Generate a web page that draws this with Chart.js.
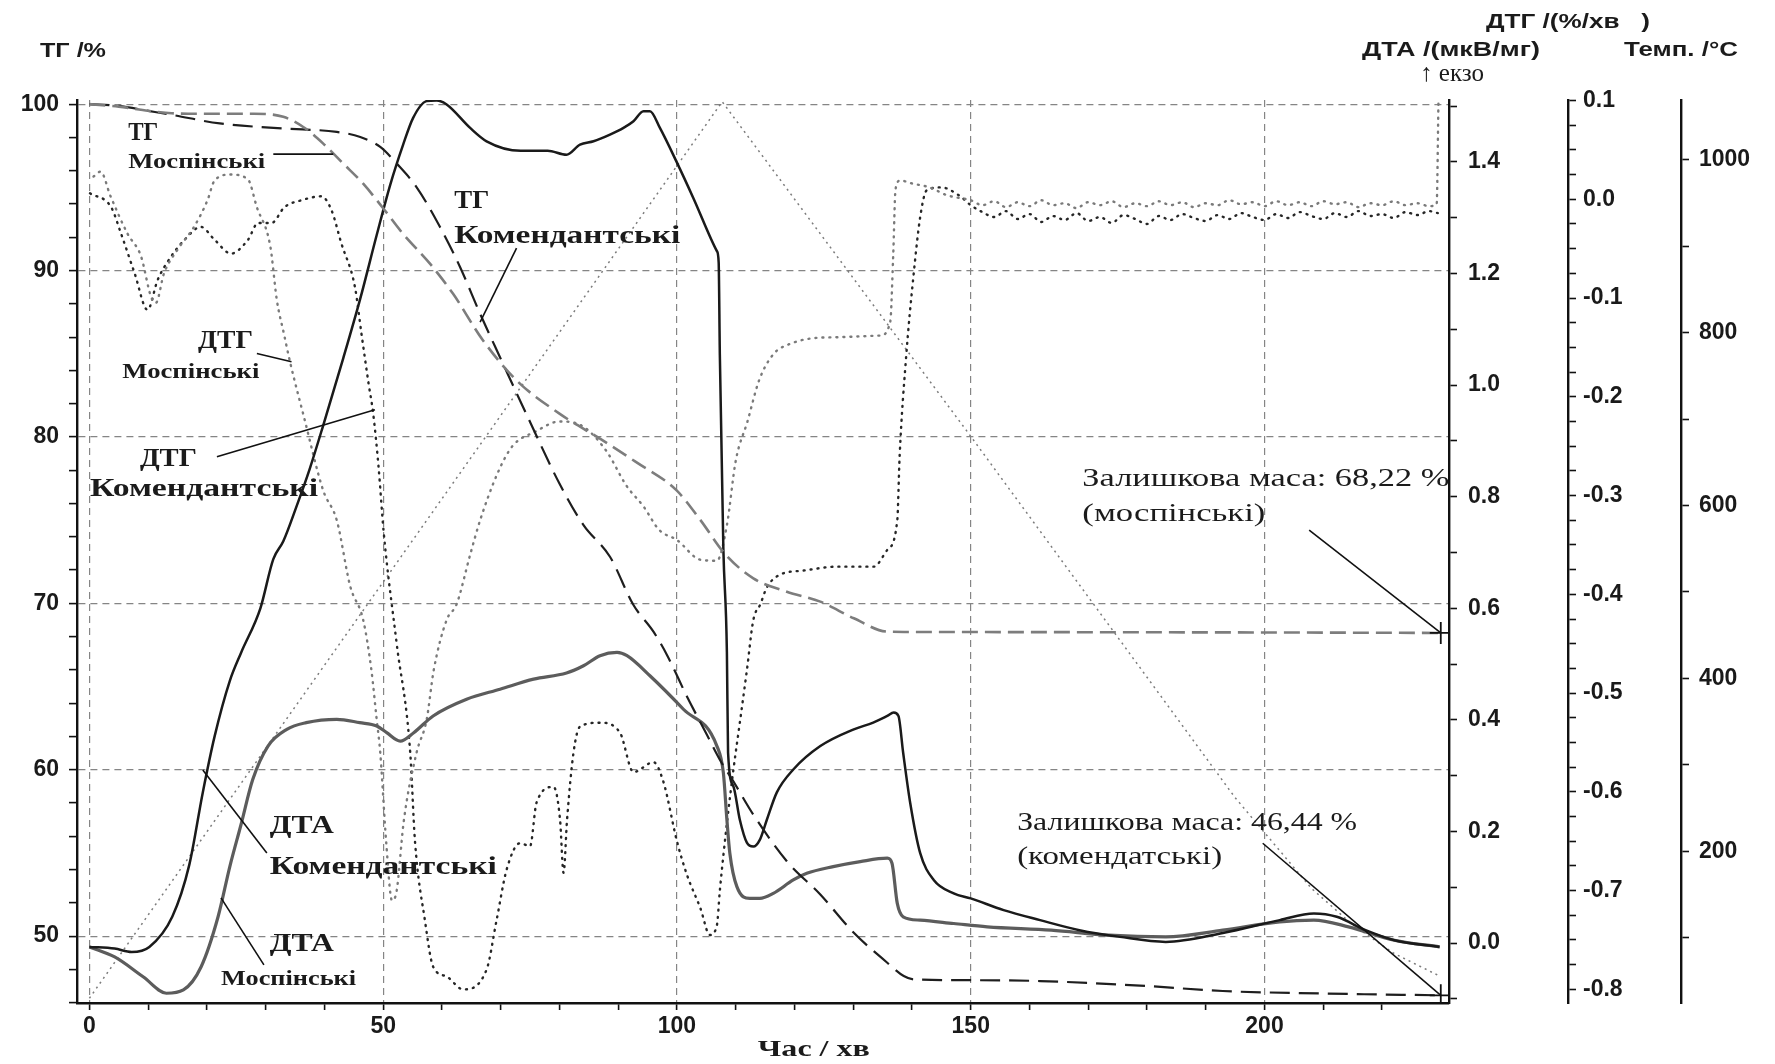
<!DOCTYPE html>
<html>
<head>
<meta charset="utf-8">
<title>ТГ / ДТГ / ДТА</title>
<script src="https://cdn.jsdelivr.net/npm/chart.js@4.4.1/dist/chart.umd.min.js"></script>
<style>
  html, body { margin: 0; padding: 0; background: #fff; }
  #wrap { width: 1775px; height: 1064px; position: relative; }
</style>
</head>
<body>
<div id="wrap"><canvas id="tga"></canvas></div>
<script>
// ---- axis ticks ----
const timeTicks = [0, 10, 20, 30, 40, 50, 60, 70, 80, 90, 100, 110, 120, 130, 140, 150, 160, 170, 180, 190, 200, 210, 220];
const timeLabels = [0, 50, 100, 150, 200];
const tgTicks = [46, 48, 50, 52, 54, 56, 58, 60, 62, 64, 66, 68, 70, 72, 74, 76, 78, 80, 82, 84, 86, 88, 90, 92, 94, 96, 98, 100];
const tgLabels = [50, 60, 70, 80, 90, 100];
const dtaTicks = [-0.1, 0, 0.1, 0.2, 0.3, 0.4, 0.5, 0.6, 0.7, 0.8, 0.9, 1.0, 1.1, 1.2, 1.3, 1.4, 1.5];
const dtaLabels = [0, 0.2, 0.4, 0.6, 0.8, 1.0, 1.2, 1.4];
const dtgTicks = [-0.8, -0.775, -0.75, -0.725, -0.7, -0.675, -0.65, -0.625, -0.6, -0.575, -0.55, -0.525, -0.5, -0.475, -0.45, -0.425, -0.4, -0.375, -0.35, -0.325, -0.3, -0.275, -0.25, -0.225, -0.2, -0.175, -0.15, -0.125, -0.1, -0.075, -0.05, -0.025, 0, 0.025, 0.05, 0.075, 0.1];
const dtgLabels = [-0.8, -0.7, -0.6, -0.5, -0.4, -0.3, -0.2, -0.1, 0, 0.1];
const tempTicks = [100, 200, 300, 400, 500, 600, 700, 800, 900, 1000];
const tempLabels = [200, 400, 600, 800, 1000];

// ---- ТГ, % ----
const tgMossTime  = [0, 5, 10, 14, 20, 28, 33, 36.4, 39.8, 43.2, 46.6, 50.3, 53.4, 58, 61.9, 67, 72.7, 80, 86.9, 93, 99.9, 104, 108.1, 113, 118.7, 124.4, 130.1, 135.8, 140, 160, 180, 200, 230];
const tgMossValue = [100, 99.85, 99.6, 99.45, 99.42, 99.42, 99.24, 98.63, 97.63, 96.43, 95.22, 93.61, 92.2, 90.4, 88.6, 85.8, 83.4, 81.4, 79.9, 78.5, 76.8, 75.0, 73.0, 71.5, 70.7, 70.1, 69.1, 68.3, 68.28, 68.27, 68.26, 68.25, 68.22];

const tgKomTime  = [0, 5, 10, 14.3, 22.2, 33, 42.1, 46.1, 49.5, 52.3, 55.7, 59.7, 63.1, 66.5, 70, 75, 80, 84.1, 88.6, 92.6, 96, 98.3, 101.7, 105.1, 107.3, 109.6, 113, 118.7, 124.4, 130.1, 135.8, 138.6, 140.3, 150, 161.8, 180, 192.9, 210, 230];
const tgKomValue = [100, 99.9, 99.6, 99.34, 98.84, 98.54, 98.33, 98.03, 97.43, 96.43, 95.0, 92.6, 90.2, 87.4, 84.7, 80.9, 77.2, 74.7, 72.8, 69.9, 68.3, 66.9, 64.4, 62.1, 60.6, 59.3, 57.3, 54.5, 52.5, 50.2, 48.4, 47.6, 47.4, 47.35, 47.3, 47.0, 46.7, 46.55, 46.44];

// ---- ДТА, мкВ/мг ----
const dtaKomTime  = [0, 4.3, 7.2, 10.2, 14.1, 17, 19.3, 21.3, 23.9, 25.8, 29.1, 31.3, 33, 35.3, 37.5, 39.8, 43.2, 46.1, 48.9, 51.2, 53.4, 55.1, 57.4, 59.1, 60.8, 64.8, 67.6, 73.4, 78, 81.2, 83.5, 85.8, 88.6, 90.9, 92.6, 94.3, 95.4, 97.1, 99.9, 102.8, 106.8, 107.1, 107.3, 107.9, 108.5, 108.7, 109.6, 110.7, 111.9, 113, 114.1, 115.3, 117, 119.8, 124.4, 130.1, 133.4, 135.8, 136.9, 137.7, 138.5, 139.7, 141.4, 143.7, 147.1, 150, 155.6, 161.8, 168.5, 175.4, 183.2, 192.9, 202.6, 208.4, 212.3, 217.2, 222.1, 229.8];
const dtaKomValue = [-0.007, -0.01, -0.016, -0.007, 0.047, 0.14, 0.27, 0.37, 0.47, 0.52, 0.6, 0.688, 0.72, 0.784, 0.85, 0.928, 1.048, 1.155, 1.269, 1.359, 1.431, 1.479, 1.509, 1.51, 1.503, 1.461, 1.437, 1.42, 1.42, 1.413, 1.431, 1.437, 1.449, 1.461, 1.473, 1.491, 1.491, 1.461, 1.401, 1.335, 1.24, 1.22, 1.054, 0.706, 0.521, 0.341, 0.281, 0.221, 0.18, 0.173, 0.185, 0.221, 0.27, 0.311, 0.353, 0.383, 0.395, 0.407, 0.413, 0.407, 0.341, 0.251, 0.161, 0.113, 0.089, 0.08, 0.059, 0.041, 0.023, 0.011, 0.002, 0.018, 0.041, 0.053, 0.047, 0.023, 0.005, -0.007];

const dtaMossTime  = [0, 4.3, 9.2, 13.1, 16, 19, 21.9, 23.9, 25.8, 27.8, 30.4, 33.6, 36.9, 42.1, 46, 48.9, 50.6, 52.9, 55.2, 58.5, 64.2, 69.9, 75.6, 81.2, 84.1, 86.9, 89.8, 91.5, 95.4, 101.1, 106.8, 107.9, 108.5, 109, 110.2, 112.4, 114.1, 116.4, 119.8, 122.1, 126.6, 131.2, 135.8, 136.6, 137.5, 138.5, 141.4, 147.1, 152.8, 163.7, 173.5, 183.2, 192.9, 202.6, 208.4, 214.3, 222.1, 229.8];
const dtaMossValue = [-0.007, -0.025, -0.061, -0.09, -0.084, -0.043, 0.047, 0.137, 0.212, 0.293, 0.353, 0.383, 0.395, 0.401, 0.395, 0.389, 0.377, 0.362, 0.377, 0.407, 0.437, 0.455, 0.473, 0.484, 0.497, 0.515, 0.521, 0.515, 0.479, 0.419, 0.353, 0.305, 0.221, 0.161, 0.101, 0.08, 0.08, 0.089, 0.113, 0.125, 0.137, 0.146, 0.152, 0.143, 0.071, 0.047, 0.041, 0.035, 0.029, 0.023, 0.014, 0.011, 0.023, 0.038, 0.041, 0.029, 0.005, -0.007];

// ---- ДТГ, %/хв ----
const dtgMossTime  = [0.7, 1.9, 3.6, 6.5, 8.8, 10.5, 11.3, 12.7, 15, 17.8, 20.1, 21.3, 24, 27, 28.5, 30.8, 31.9, 33.1, 34.2, 36.5, 39.8, 42.1, 44.4, 46.6, 48, 48.9, 49.5, 50.5, 51.5, 52.3, 53.5, 55.7, 57.4, 58.6, 60.8, 62.5, 64.8, 66.5, 69.5, 72, 76, 80, 84, 88, 91.4, 94.3, 97, 100, 104, 106.8, 108.5, 110, 112, 114, 116.4, 119, 125, 134.6, 136.3, 136.8, 137.2, 138, 140, 143, 146, 150, 152, 154, 156, 158, 160, 162, 164, 166, 168, 170, 172, 174, 176, 178, 180, 182, 184, 186, 188, 190, 192, 194, 196, 198, 200, 202, 204, 206, 208, 210, 212, 214, 216, 218, 220, 222, 224, 226, 228, 229.3, 229.6];
const dtgMossValue = [0.023, 0.028, 0.003, -0.035, -0.058, -0.099, -0.105, -0.075, -0.051, -0.028, -0.001, 0.019, 0.025, 0.02, -0.008, -0.048, -0.102, -0.136, -0.166, -0.22, -0.295, -0.325, -0.392, -0.426, -0.477, -0.527, -0.56, -0.65, -0.71, -0.7, -0.63, -0.56, -0.527, -0.477, -0.426, -0.41, -0.36, -0.325, -0.277, -0.25, -0.235, -0.225, -0.23, -0.255, -0.29, -0.311, -0.335, -0.345, -0.365, -0.366, -0.33, -0.265, -0.225, -0.183, -0.157, -0.147, -0.14, -0.138, -0.124, -0.058, 0.01, 0.019, 0.016, 0.012, 0.004, -0.001, -0.006, -0.002, -0.008, -0.003, -0.007, -0.001, -0.006, -0.004, -0.009, -0.003, -0.006, -0.002, -0.008, -0.004, -0.007, -0.002, -0.006, -0.003, -0.008, -0.004, -0.006, -0.001, -0.005, -0.003, -0.007, -0.002, -0.006, -0.003, -0.007, -0.002, -0.005, -0.003, -0.008, -0.004, -0.006, -0.002, -0.006, -0.004, -0.007, -0.005, 0.097];

const dtgKomTime  = [0.1, 3.7, 5.4, 7.7, 9.9, 11.6, 13.9, 16.2, 19, 21.3, 24.1, 27, 28.7, 31, 33.2, 36.1, 39.5, 41.2, 42.9, 45.2, 46.3, 47.5, 48.3, 49.2, 50.1, 52.3, 54.6, 55.4, 57.1, 58.5, 60.8, 63.6, 67.6, 69.3, 71, 73.3, 75, 76.1, 79, 80.1, 80.7, 81.3, 82.4, 83.5, 86.9, 90.3, 92.6, 96, 97.7, 100, 101.7, 104, 105.6, 106.8, 107.3, 108.5, 109.6, 110.7, 111.9, 113, 114.2, 115.3, 117.6, 121.5, 127.2, 133.5, 135.8, 137.5, 137.9, 139, 140.3, 141.4, 142.5, 145, 148, 150, 152, 154, 156, 158, 160, 162, 164, 166, 168, 170, 172, 174, 176, 178, 180, 182, 184, 186, 188, 190, 192, 194, 196, 198, 200, 202, 204, 206, 208, 210, 212, 214, 216, 218, 220, 222, 224, 226, 228, 229.5];
const dtgKomValue = [0.006, -0.008, -0.035, -0.075, -0.112, -0.082, -0.058, -0.041, -0.028, -0.041, -0.055, -0.041, -0.024, -0.024, -0.008, -0.001, 0.003, -0.011, -0.045, -0.089, -0.136, -0.186, -0.217, -0.27, -0.338, -0.45, -0.56, -0.649, -0.73, -0.777, -0.787, -0.8, -0.78, -0.73, -0.679, -0.652, -0.655, -0.611, -0.595, -0.628, -0.682, -0.628, -0.56, -0.534, -0.53, -0.54, -0.58, -0.57, -0.59, -0.65, -0.684, -0.718, -0.745, -0.735, -0.7, -0.632, -0.578, -0.53, -0.477, -0.426, -0.41, -0.393, -0.38, -0.376, -0.372, -0.372, -0.355, -0.325, -0.26, -0.16, -0.075, -0.018, 0.009, 0.012, 0.004, -0.006, -0.013, -0.018, -0.012, -0.02, -0.015, -0.023, -0.017, -0.021, -0.014, -0.022, -0.018, -0.024, -0.016, -0.02, -0.025, -0.017, -0.021, -0.015, -0.019, -0.022, -0.016, -0.02, -0.014, -0.018, -0.021, -0.015, -0.019, -0.013, -0.017, -0.02, -0.014, -0.018, -0.012, -0.017, -0.015, -0.019, -0.013, -0.016, -0.012, -0.014];

// ---- Температура, °C ----
const tempTime  = [0, 107.7, 150, 195, 208, 215, 222, 230];
const tempValue = [30, 1067, 680, 262, 157, 115, 82, 55];

// ---- text on the plot (position in time / ТГ units) ----
const curveLabels = [
  { text: 'ТГ', t: 6.6, tg: 97.84, font: 'bold 25px "Liberation Serif"', width: 30 },
  { text: 'Моспінські', t: 6.6, tg: 96.16, font: 'bold 22px "Liberation Serif"', width: 137 },
  { text: 'ТГ', t: 62.1, tg: 93.76, font: 'bold 25px "Liberation Serif"', width: 35 },
  { text: 'Комендантські', t: 62.1, tg: 91.65, font: 'bold 25px "Liberation Serif"', width: 226 },
  { text: 'ДТГ', t: 18.5, tg: 85.34, font: 'bold 25px "Liberation Serif"', width: 55 },
  { text: 'Моспінські', t: 5.6, tg: 83.54, font: 'bold 22px "Liberation Serif"', width: 137 },
  { text: 'ДТГ', t: 8.6, tg: 78.25, font: 'bold 25px "Liberation Serif"', width: 57 },
  { text: 'Комендантські', t: 0.1, tg: 76.45, font: 'bold 25px "Liberation Serif"', width: 228 },
  { text: 'ДТА', t: 30.7, tg: 56.2, font: 'bold 25px "Liberation Serif"', width: 64 },
  { text: 'Комендантські', t: 30.7, tg: 53.74, font: 'bold 25px "Liberation Serif"', width: 227 },
  { text: 'ДТА', t: 30.7, tg: 49.11, font: 'bold 25px "Liberation Serif"', width: 64 },
  { text: 'Моспінські', t: 22.4, tg: 47.06, font: 'bold 22px "Liberation Serif"', width: 135 },
  { text: 'Залишкова маса: 68,22 %', t: 169.0, tg: 77.05, font: '25px "Liberation Serif"', width: 367 },
  { text: '(моспінські)', t: 169.0, tg: 74.95, font: '25px "Liberation Serif"', width: 183 },
  { text: 'Залишкова маса: 46,44 %', t: 157.9, tg: 56.38, font: '25px "Liberation Serif"', width: 340 },
  { text: '(комендатські)', t: 157.9, tg: 54.34, font: '25px "Liberation Serif"', width: 205 }
];
const leaderLines = [
  [31.3, 97.0, 41.5, 97.0],
  [72.7, 91.35, 66.5, 86.9],
  [28.5, 85.02, 34.4, 84.52],
  [21.7, 78.81, 48.6, 81.63],
  [19.3, 59.99, 30.2, 55.0],
  [22.4, 52.3, 29.7, 48.27],
  [207.6, 74.4, 230, 68.22],
  [199.7, 55.58, 230, 46.44]
];

function pts(ts, vs) { return ts.map((t, i) => ({ x: t, y: vs[i] })); }
function near(list, v) { return list.some(a => Math.abs(a - v) < 1e-6); }
function setTicks(list) { return axis => { axis.ticks = list.map(v => ({ value: v })); }; }
function fixWidth(w) { return scale => { scale.width = w; }; }

function stretchText(ctx, text, px, py, font, width, align) {
  ctx.font = font;
  const w = ctx.measureText(text).width;
  const k = width ? width / w : 1;
  ctx.save();
  ctx.translate(px, py);
  ctx.scale(k, 1);
  ctx.textAlign = align || 'left';
  ctx.fillText(text, 0, 0);
  ctx.restore();
}

const textPlugin = {
  id: 'tgaText',
  afterDatasetsDraw(chart) {
    const { ctx, scales } = chart;
    const x = scales.x, y = scales.yTG;
    ctx.save();
    ctx.fillStyle = '#1b1b1b';
    ctx.textBaseline = 'alphabetic';
    curveLabels.forEach(l => {
      stretchText(ctx, l.text, x.getPixelForValue(l.t), y.getPixelForValue(l.tg), l.font, l.width, 'left');
    });
    ctx.strokeStyle = '#111';
    ctx.lineWidth = 1.6;
    leaderLines.forEach(([t1, v1, t2, v2]) => {
      ctx.beginPath();
      ctx.moveTo(x.getPixelForValue(t1), y.getPixelForValue(v1));
      ctx.lineTo(x.getPixelForValue(t2), y.getPixelForValue(v2));
      ctx.stroke();
    });
    // axis titles
    const top = chart.chartArea.top;
    const sans = 'bold 20px "Liberation Sans"';
    stretchText(ctx, 'ТГ /%', y.left + 40, top - 43, sans, 66, 'left');
    stretchText(ctx, 'ДТГ /(%/хв   )', scales.yDTG.left, top - 72, sans, 164, 'center');
    stretchText(ctx, 'ДТА /(мкВ/мг)', scales.yDTA.left + 2, top - 44, sans, 178, 'center');
    stretchText(ctx, '↑ екзо', scales.yDTA.left + 3, top - 19, '25px "Liberation Serif"', 64, 'center');
    stretchText(ctx, 'Темп. /°C', scales.yTemp.left, top - 44, sans, 114, 'center');
    stretchText(ctx, 'Час / хв', x.getPixelForValue(123.3), x.bottom - 8, 'bold 24px "Liberation Serif"', 112, 'center');
    ctx.restore();
  }
};

const tickFont = { family: '"Liberation Sans", Arial, sans-serif', size: 23, weight: 'bold' };
const gridGray = '#858585';

const lastCross = ctx => (ctx.dataIndex === ctx.dataset.data.length - 1 ? 11 : 0);

new Chart(document.getElementById('tga'), {
  type: 'line',
  data: {
    datasets: [
      { label: 'ТГ Моспінські', data: pts(tgMossTime, tgMossValue), yAxisID: 'yTG',
        borderColor: '#7d7d7d', borderWidth: 2.6, borderDash: [16, 7], cubicInterpolationMode: 'monotone',
        pointStyle: 'cross', pointRadius: lastCross, pointBorderColor: '#111', pointBorderWidth: 1.8 },
      { label: 'ТГ Комендантські', data: pts(tgKomTime, tgKomValue), yAxisID: 'yTG',
        borderColor: '#1e1e1e', borderWidth: 2.2, borderDash: [20, 9], cubicInterpolationMode: 'monotone',
        pointStyle: 'cross', pointRadius: lastCross, pointBorderColor: '#111', pointBorderWidth: 1.8 },
      { label: 'ДТА Комендантські', data: pts(dtaKomTime, dtaKomValue), yAxisID: 'yDTA',
        borderColor: '#1a1a1a', borderWidth: 2.5, cubicInterpolationMode: 'monotone', pointRadius: 0 },
      { label: 'ДТА Моспінські', data: pts(dtaMossTime, dtaMossValue), yAxisID: 'yDTA',
        borderColor: '#5c5c5c', borderWidth: 3.2, cubicInterpolationMode: 'monotone', pointRadius: 0 },
      { label: 'ДТГ Моспінські', data: pts(dtgMossTime, dtgMossValue), yAxisID: 'yDTG',
        borderColor: '#7a7a7a', borderWidth: 2.4, borderDash: [1, 6], borderCapStyle: 'round',
        cubicInterpolationMode: 'monotone', pointRadius: 0 },
      { label: 'ДТГ Комендантські', data: pts(dtgKomTime, dtgKomValue), yAxisID: 'yDTG',
        borderColor: '#262626', borderWidth: 2.4, borderDash: [1, 6], borderCapStyle: 'round',
        cubicInterpolationMode: 'monotone', pointRadius: 0 },
      { label: 'Температура', data: pts(tempTime, tempValue), yAxisID: 'yTemp',
        borderColor: '#7c7c7c', borderWidth: 1.5, borderDash: [2, 4], tension: 0, pointRadius: 0 }
    ]
  },
  options: {
    responsive: true,
    maintainAspectRatio: false,
    animation: false,
    events: [],
    layout: { padding: { top: 100, left: 0, right: 0, bottom: 0 } },
    plugins: { legend: { display: false }, tooltip: { enabled: false } },
    scales: {
      x: {
        type: 'linear', position: 'bottom', min: -2.11, max: 231.4,
        afterBuildTicks: setTicks(timeTicks),
        afterFit: scale => { scale.height = 61; },
        ticks: { autoSkip: false, maxRotation: 0, padding: 3, color: '#1a1a1a', font: tickFont,
                 callback: v => (near(timeLabels, v) ? String(v) : '') },
        grid: { color: c => (c.tick && near(timeLabels, c.tick.value) ? gridGray : 'rgba(0,0,0,0)'),
                lineWidth: 1.2, tickColor: '#111', tickLength: 7, tickWidth: 1.6 },
        border: { color: '#111', width: 2.4, dash: [7, 5] }
      },
      yTG: {
        type: 'linear', position: 'left', min: 45.98, max: 100.25,
        afterBuildTicks: setTicks(tgTicks),
        afterFit: fixWidth(77),
        ticks: { autoSkip: false, padding: 10, color: '#1a1a1a', font: tickFont,
                 callback: v => (near(tgLabels, v) ? String(v) : '') },
        grid: { color: c => (c.tick && near(tgLabels, c.tick.value) ? gridGray : 'rgba(0,0,0,0)'),
                lineWidth: 1.2, tickColor: '#111', tickLength: 8, tickWidth: 1.6 },
        border: { color: '#111', width: 2.4, dash: [7, 5] }
      },
      yDTA: {
        type: 'linear', position: 'right', weight: 0, min: -0.1075, max: 1.511,
        afterBuildTicks: setTicks(dtaTicks),
        afterFit: fixWidth(119),
        ticks: { autoSkip: false, padding: 11, color: '#1a1a1a', font: tickFont,
                 callback: v => (near(dtaLabels, v) ? v.toFixed(1) : '') },
        grid: { drawOnChartArea: false, tickColor: '#111', tickLength: 8, tickWidth: 1.6 },
        border: { color: '#111', width: 2.4 }
      },
      yDTG: {
        type: 'linear', position: 'right', weight: 1, min: -0.8138, max: 0.1005,
        afterBuildTicks: setTicks(dtgTicks),
        afterFit: fixWidth(113),
        ticks: { autoSkip: false, padding: 7, color: '#1a1a1a', font: tickFont,
                 callback: v => (near(dtgLabels, v) ? (Math.abs(v) < 1e-9 ? '0.0' : v.toFixed(1)) : '') },
        grid: { drawOnChartArea: false, tickColor: '#111', tickLength: 8, tickWidth: 1.6 },
        border: { color: '#111', width: 2.4 }
      },
      yTemp: {
        type: 'linear', position: 'right', weight: 2, min: 24.5, max: 1069,
        afterBuildTicks: setTicks(tempTicks),
        afterFit: fixWidth(94),
        ticks: { autoSkip: false, padding: 10, color: '#1a1a1a', font: tickFont,
                 callback: v => (near(tempLabels, v) ? String(v) : '') },
        grid: { drawOnChartArea: false, tickColor: '#111', tickLength: 8, tickWidth: 1.6 },
        border: { color: '#111', width: 2.4 }
      }
    }
  },
  plugins: [textPlugin]
});
</script>
</body>
</html>
